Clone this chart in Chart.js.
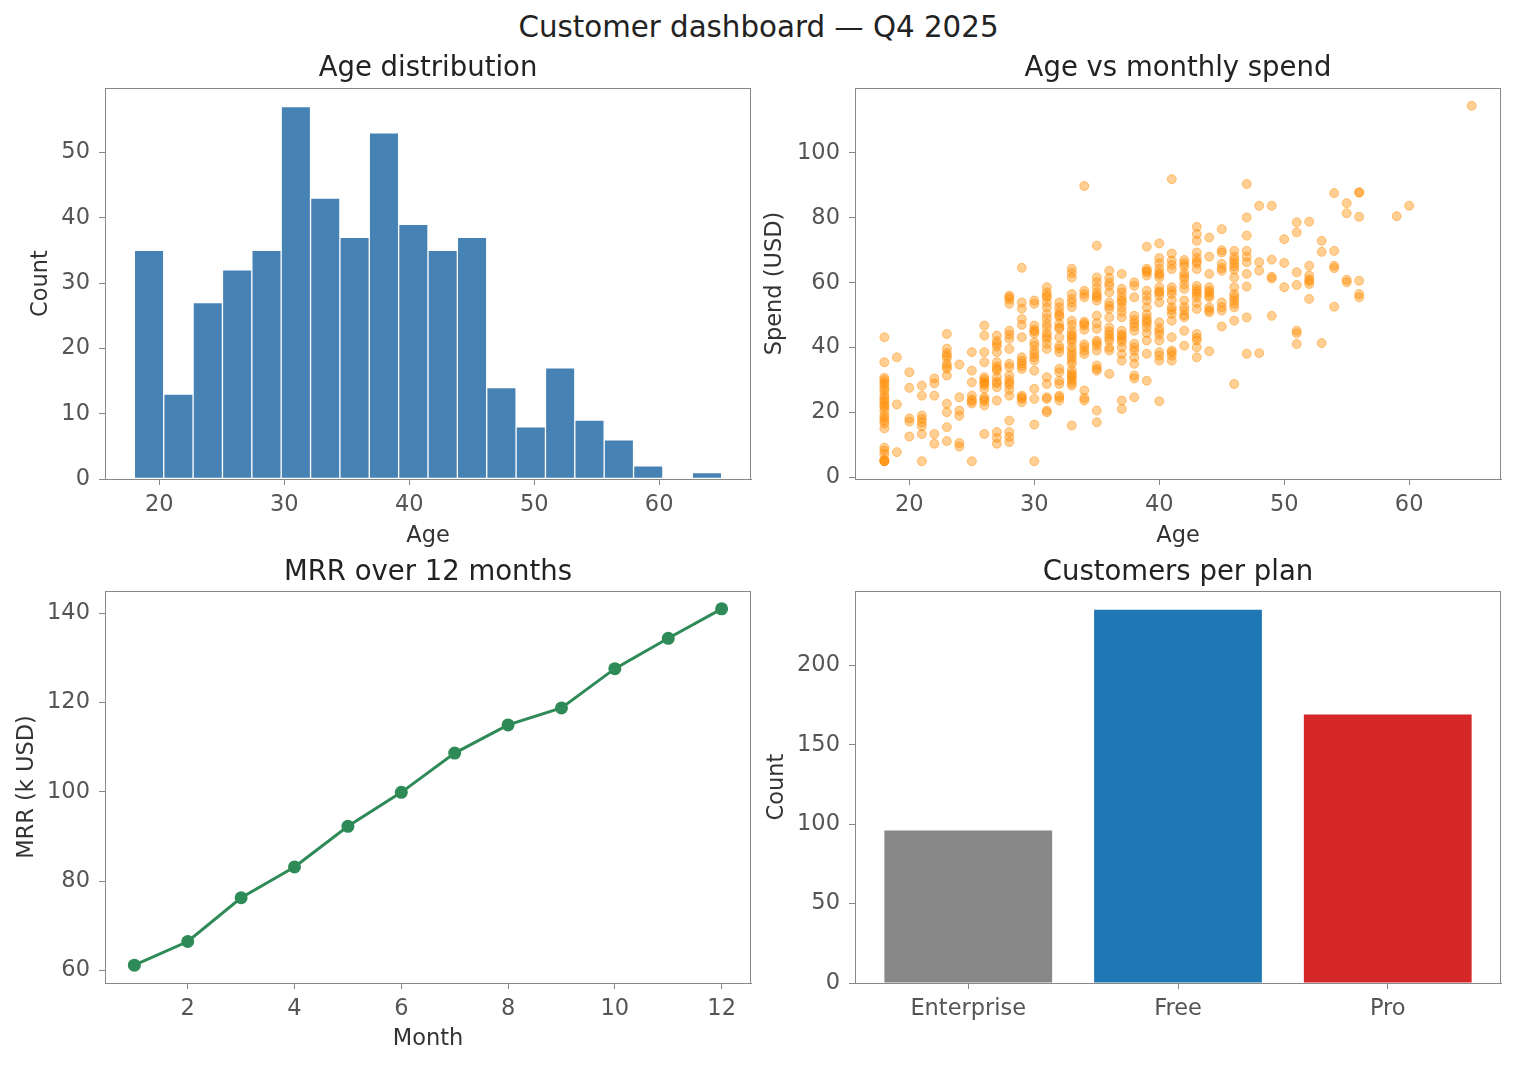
<!DOCTYPE html>
<html>
<head>
<meta charset="utf-8">
<title>Customer dashboard — Q4 2025</title>
<script src="https://cdn.jsdelivr.net/npm/chart.js@4.4.1/dist/chart.umd.min.js"></script>
<style>
  body { margin: 0; background: #fff; width: 1517px; height: 1067px; position: relative; overflow: hidden; font-family: 'DejaVu Sans', sans-serif; }
  #suptitle { position: absolute; left: 0; top: 10px; width: 1517px; text-align: center; font-size: 29.3px; line-height: 35px; color: #222; }
  canvas { position: absolute; }
</style>
</head>
<body>
<div id="suptitle">Customer dashboard — Q4 2025</div>
<canvas id="histChart" width="770" height="520" style="left:0;top:40px"></canvas>
<canvas id="scatterChart" width="762" height="520" style="left:755px;top:40px"></canvas>
<canvas id="mrrChart" width="770" height="524" style="left:0;top:543px"></canvas>
<canvas id="planChart" width="762" height="524" style="left:755px;top:543px"></canvas>
<script>
// --- data ---
const AGE_MIN = 18;
const AGE_MAX = 65;
const histCounts = [35, 13, 27, 32, 35, 57, 43, 37, 53, 39, 35, 37, 14, 8, 17, 9, 6, 2, 0, 1];

// spend per customer, grouped by age
const spendByAge = [
    [18, [43.2, 35.5, 30.7, 30.0, 29.3, 28.5, 27.5, 26.8, 25.5, 24.6, 23.8, 23.0, 22.2, 21.6, 20.5, 19.1, 18.3, 17.5, 16.6, 15.1, 9.2, 8.3, 7.3, 5.6, 5.0, 5.0, 5.0]],
    [19, [37.0, 22.5, 7.8]],
    [20, [32.4, 27.6, 18.2, 17.2, 12.6]],
    [21, [28.3, 25.2, 19.1, 18.0, 17.0, 15.8, 13.4, 5.0]],
    [22, [30.5, 29.0, 25.2, 13.4, 10.4]],
    [23, [44.2, 39.7, 38.3, 37.5, 36.8, 35.0, 34.2, 33.5, 31.4, 22.7, 20.1, 15.5, 11.2]],
    [24, [34.8, 24.7, 20.6, 19.0, 10.6, 9.5]],
    [25, [38.6, 32.9, 29.3, 25.2, 24.0, 23.5, 22.8, 5.0]],
    [26, [46.8, 43.7, 38.6, 35.5, 30.9, 30.2, 29.5, 29.0, 28.5, 27.3, 24.7, 24.0, 23.5, 22.2, 13.4]],
    [27, [43.7, 42.0, 41.2, 40.3, 38.6, 35.5, 34.2, 33.5, 32.9, 30.9, 29.5, 29.0, 27.8, 23.7, 14.0, 12.2, 10.4]],
    [28, [56.0, 55.5, 54.8, 53.5, 45.2, 44.0, 42.7, 39.6, 35.0, 34.0, 31.4, 30.0, 29.2, 28.5, 27.0, 25.2, 17.5, 14.0, 12.5, 10.9]],
    [29, [64.6, 53.9, 52.0, 48.8, 47.0, 43.2, 37.0, 36.0, 35.2, 34.3, 33.4, 25.2, 24.7, 24.2, 23.2]],
    [30, [54.5, 53.5, 46.8, 45.5, 45.0, 44.3, 41.6, 40.6, 39.0, 38.0, 37.0, 36.0, 32.9, 27.3, 24.2, 16.3, 5.0]],
    [31, [58.6, 57.0, 56.0, 55.5, 53.9, 52.4, 50.4, 49.0, 47.4, 46.2, 44.5, 43.5, 42.7, 41.2, 39.6, 30.9, 28.8, 24.7, 24.2, 20.6, 20.1]],
    [32, [53.9, 52.4, 51.0, 50.0, 49.5, 47.4, 46.2, 45.8, 43.2, 40.5, 39.7, 38.6, 33.5, 32.4, 29.8, 28.8, 25.2, 24.7, 23.7]],
    [33, [64.3, 63.0, 61.6, 56.5, 55.0, 53.9, 52.5, 48.3, 47.0, 45.2, 44.0, 43.5, 42.5, 41.8, 40.1, 39.0, 38.0, 37.0, 36.0, 35.0, 33.0, 32.0, 31.4, 30.7, 30.0, 29.0, 28.3, 16.0]],
    [34, [89.8, 57.5, 56.5, 55.5, 48.0, 47.4, 46.8, 45.5, 41.0, 40.1, 39.0, 38.0, 26.8, 24.5, 23.7]],
    [35, [71.4, 61.6, 60.1, 58.5, 57.0, 56.0, 55.5, 54.5, 49.8, 47.5, 45.8, 42.1, 41.5, 40.6, 39.1, 34.5, 33.5, 32.9, 20.6, 17.0]],
    [36, [63.7, 61.5, 60.0, 59.0, 57.0, 53.9, 52.8, 51.9, 49.3, 46.2, 45.0, 44.0, 43.0, 42.1, 40.0, 39.1, 31.9]],
    [37, [62.7, 58.1, 57.0, 55.5, 54.5, 53.9, 52.4, 51.0, 49.3, 45.2, 44.0, 43.5, 42.5, 41.8, 40.1, 38.0, 36.0, 23.7, 21.1]],
    [38, [60.1, 59.0, 55.5, 49.8, 48.5, 47.5, 46.5, 45.2, 41.2, 40.0, 39.0, 37.0, 35.0, 31.4, 30.5, 24.7]],
    [39, [71.1, 64.3, 63.7, 63.2, 62.2, 57.5, 56.0, 54.5, 52.4, 50.3, 49.0, 48.2, 47.5, 46.2, 44.5, 42.2, 38.1, 29.8]],
    [40, [72.1, 67.6, 66.0, 64.3, 63.0, 62.5, 61.6, 58.6, 57.3, 57.0, 56.0, 53.9, 47.8, 46.0, 45.0, 44.0, 42.2, 38.6, 37.5, 36.0, 23.5]],
    [41, [91.9, 69.0, 66.8, 65.5, 64.2, 58.6, 57.5, 56.5, 54.5, 52.4, 51.5, 50.4, 48.3, 43.2, 39.1, 38.5, 37.5, 36.0]],
    [42, [67.0, 66.0, 65.0, 63.0, 62.0, 61.1, 59.5, 58.1, 54.5, 52.5, 51.4, 50.0, 49.3, 45.2, 40.6]],
    [43, [77.2, 75.0, 72.9, 69.3, 67.6, 66.5, 65.9, 64.2, 59.0, 58.0, 57.2, 56.5, 55.5, 53.7, 51.9, 44.2, 43.0, 42.2, 40.1, 37.0]],
    [44, [73.9, 68.0, 62.7, 58.6, 57.5, 57.0, 56.0, 55.5, 52.4, 51.5, 50.9, 38.9]],
    [45, [76.5, 70.0, 69.3, 65.8, 64.5, 63.7, 53.9, 52.5, 51.4, 46.5]],
    [46, [69.8, 68.0, 67.0, 66.0, 65.0, 64.0, 61.6, 58.6, 56.5, 55.5, 54.5, 53.5, 52.4, 48.3, 28.8]],
    [47, [90.4, 80.1, 74.5, 69.8, 68.0, 66.3, 62.7, 58.8, 49.3, 38.1]],
    [48, [83.7, 66.3, 63.7, 38.3]],
    [49, [83.7, 67.1, 61.8, 61.3, 49.8]],
    [50, [73.4, 66.1, 58.6]],
    [51, [78.6, 75.5, 63.2, 59.3, 45.2, 44.4, 41.1]],
    [52, [78.8, 65.2, 62.2, 61.0, 60.5, 59.6, 55.0]],
    [53, [72.9, 69.5, 41.4]],
    [54, [87.6, 69.8, 65.2, 64.5, 52.6]],
    [55, [84.5, 81.4, 60.9, 60.1]],
    [56, [87.8, 87.8, 80.3, 60.6, 56.5, 55.5]],
    [59, [80.5]],
    [60, [83.7]],
    [65, [114.5]]
];

const months = [1, 2, 3, 4, 5, 6, 7, 8, 9, 10, 11, 12];
const mrrValues = [61.2, 66.5, 76.3, 83.2, 92.3, 99.9, 108.7, 115.0, 118.8, 127.6, 134.4, 141.0];

const planNames = ['Enterprise', 'Free', 'Pro'];
const planCounts = [96, 235, 169];
const planColors = ['#888888', '#1f77b4', '#d62728'];

const ageTicks = [20, 30, 40, 50, 60];
const histYTicks = [0, 10, 20, 30, 40, 50];
const spendTicks = [0, 20, 40, 60, 80, 100];
const monthTicks = [2, 4, 6, 8, 10, 12];
const mrrTicks = [60, 80, 100, 120, 140];
const planYTicks = [0, 50, 100, 150, 200];

// --- styling ---
const FONT = "'DejaVu Sans', sans-serif";
const TICK_COLOR = '#555';
const LABEL_COLOR = '#333';
const SPINE = '#888';

Chart.defaults.font.family = FONT;
Chart.defaults.animation = false;

// draws the full box around the plot area, like matplotlib spines
const framePlugin = {
    id: 'frame',
    afterDraw(chart) {
        const a = chart.chartArea;
        const ctx = chart.ctx;
        ctx.save();
        ctx.strokeStyle = SPINE;
        ctx.lineWidth = 1;
        ctx.strokeRect(Math.round(a.left) + 0.5, Math.round(a.top) + 0.5,
            Math.round(a.right - a.left) - 1, Math.round(a.bottom - a.top));
        ctx.restore();
    }
};

function makeAxis(opts) {
    const horizontal = opts.horizontal;
    return {
        type: 'linear',
        position: horizontal ? 'bottom' : 'left',
        min: opts.min,
        max: opts.max,
        offset: false,
        afterBuildTicks: s => { s.ticks = opts.ticks.map(v => ({ value: v })); },
        afterFit: s => { if (horizontal) s.height = opts.size; else s.width = opts.size; },
        grid: { display: true, drawOnChartArea: false, drawTicks: true, tickLength: 6, tickWidth: 1, color: SPINE, offset: false },
        border: { display: true, color: SPINE, width: 1 },
        ticks: {
            color: TICK_COLOR, font: { family: FONT, size: 22.5 }, padding: horizontal ? 7 : 9,
            maxRotation: 0, autoSkip: false,
            callback: opts.format || (v => String(v))
        },
        title: {
            display: !!opts.label, text: opts.label || '', color: LABEL_COLOR,
            font: { family: FONT, size: 22.5 },
            padding: horizontal ? { top: 0, bottom: opts.titlePad } : { top: opts.titlePad, bottom: 0 }
        }
    };
}

function basePlugins(title, padTop, padBottom) {
    return {
        legend: { display: false },
        tooltip: { enabled: false },
        title: {
            display: true, text: title, fullSize: false, color: '#222',
            font: { family: FONT, size: 27.5, weight: 'normal' },
            padding: { top: padTop, bottom: padBottom }
        }
    };
}

// --- histogram ---
const binWidth = (AGE_MAX - AGE_MIN) / histCounts.length;
const ageRange = AGE_MAX - AGE_MIN;
new Chart(document.getElementById('histChart'), {
    type: 'bar',
    data: {
        datasets: [{
            data: histCounts.map((c, i) => ({ x: AGE_MIN + (i + 0.5) * binWidth, y: c })),
            backgroundColor: '#4682b4',
            borderColor: '#ffffff',
            borderWidth: 1,
            borderSkipped: false,
            barPercentage: 1,
            categoryPercentage: 1
        }]
    },
    options: {
        responsive: false,
        layout: { padding: { left: 0, right: 19, top: 0, bottom: 0 } },
        plugins: basePlugins('Age distribution', 12, 3),
        scales: {
            x: makeAxis({ horizontal: true, min: AGE_MIN - ageRange * 0.05, max: AGE_MAX + ageRange * 0.05, ticks: ageTicks, label: 'Age', size: 81, titlePad: 10.5 }),
            y: makeAxis({ min: 0, max: Math.max(...histCounts) * 1.05, ticks: histYTicks, label: 'Count', size: 105, titlePad: 27.5 })
        }
    },
    plugins: [framePlugin]
});

// --- scatter ---
const scatterPoints = [];
spendByAge.forEach(([age, spends]) => {
    spends.forEach(s => scatterPoints.push({ x: age, y: s }));
});
const allSpend = scatterPoints.map(p => p.y);
const spendMin = Math.min(...allSpend);
const spendMax = Math.max(...allSpend);
const spendPad = (spendMax - spendMin) * 0.05;
new Chart(document.getElementById('scatterChart'), {
    type: 'scatter',
    data: {
        datasets: [{
            data: scatterPoints,
            pointRadius: 4.5,
            pointBorderWidth: 1,
            backgroundColor: 'rgba(255, 140, 0, 0.42)',
            borderColor: 'rgba(255, 140, 0, 0.45)'
        }]
    },
    options: {
        responsive: false,
        layout: { padding: { left: 0, right: 16, top: 0, bottom: 0 } },
        plugins: basePlugins('Age vs monthly spend', 12, 3),
        scales: {
            x: makeAxis({ horizontal: true, min: AGE_MIN - ageRange * 0.05, max: AGE_MAX + ageRange * 0.05, ticks: ageTicks, label: 'Age', size: 81, titlePad: 10.5 }),
            y: makeAxis({ min: spendMin - spendPad, max: spendMax + spendPad, ticks: spendTicks, label: 'Spend (USD)', size: 100, titlePad: 6.5 })
        }
    },
    plugins: [framePlugin]
});

// --- MRR line ---
const mrrMin = Math.min(...mrrValues);
const mrrMax = Math.max(...mrrValues);
const mrrPad = (mrrMax - mrrMin) * 0.05;
new Chart(document.getElementById('mrrChart'), {
    type: 'line',
    data: {
        datasets: [{
            data: months.map((m, i) => ({ x: m, y: mrrValues[i] })),
            borderColor: '#2e8b57',
            backgroundColor: '#2e8b57',
            borderWidth: 3,
            pointRadius: 6.5,
            pointBorderWidth: 0,
            pointBackgroundColor: '#2e8b57',
            tension: 0,
            fill: false
        }]
    },
    options: {
        responsive: false,
        layout: { padding: { left: 0, right: 19, top: 0, bottom: 0 } },
        plugins: basePlugins('MRR over 12 months', 13, 2),
        scales: {
            x: makeAxis({ horizontal: true, min: 1 - 11 * 0.05, max: 12 + 11 * 0.05, ticks: monthTicks, label: 'Month', size: 84, titlePad: 14.5 }),
            y: makeAxis({ min: mrrMin - mrrPad, max: mrrMax + mrrPad, ticks: mrrTicks, label: 'MRR (k USD)', size: 105, titlePad: 13.5 })
        }
    },
    plugins: [framePlugin]
});

// --- customers per plan ---
new Chart(document.getElementById('planChart'), {
    type: 'bar',
    data: {
        datasets: [{
            data: planCounts.map((c, i) => ({ x: i, y: c })),
            backgroundColor: planColors,
            borderWidth: 0,
            barPercentage: 0.8,
            categoryPercentage: 1
        }]
    },
    options: {
        responsive: false,
        layout: { padding: { left: 0, right: 16, top: 0, bottom: 0 } },
        plugins: basePlugins('Customers per plan', 13, 2),
        scales: {
            x: makeAxis({ horizontal: true, min: -0.4 - 0.14, max: 2.4 + 0.14, ticks: [0, 1, 2], size: 84, titlePad: 0, format: v => planNames[v] }),
            y: makeAxis({ min: 0, max: Math.max(...planCounts) * 1.05, ticks: planYTicks, label: 'Count', size: 100, titlePad: 8.5 })
        }
    },
    plugins: [framePlugin]
});
</script>
</body>
</html>
